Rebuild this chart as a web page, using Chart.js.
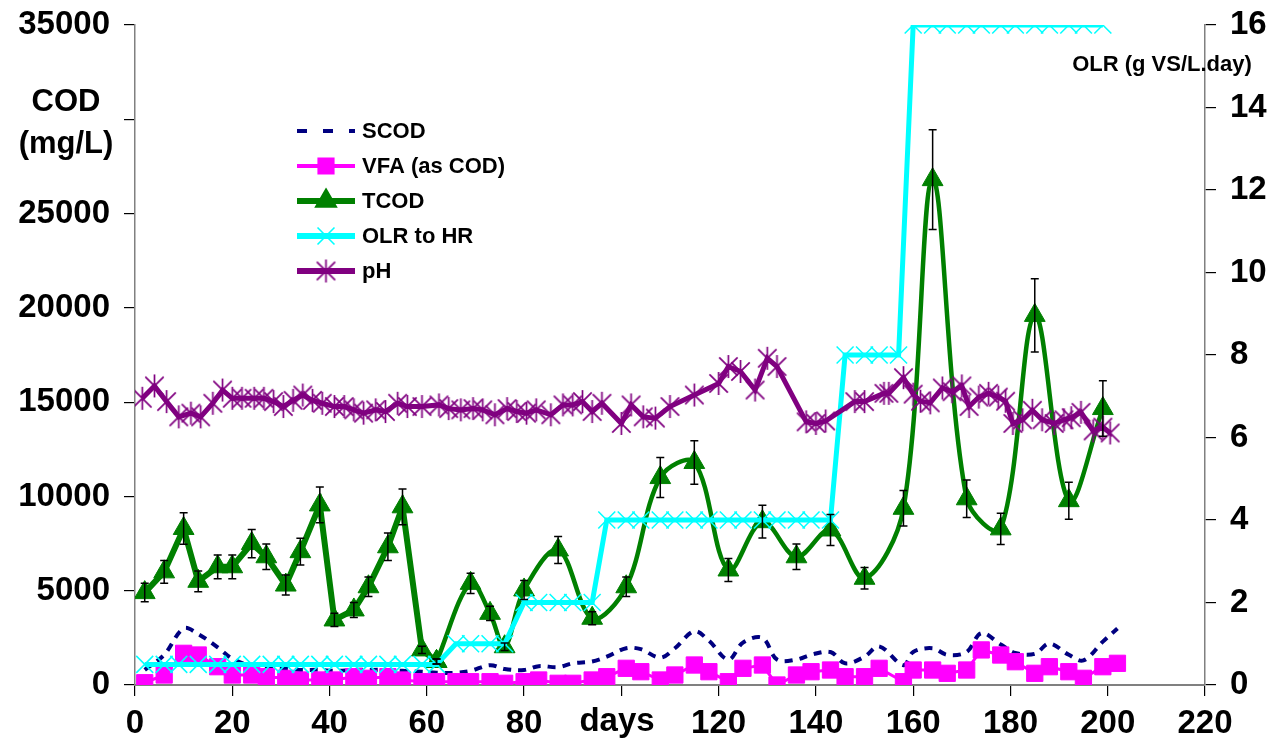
<!DOCTYPE html>
<html>
<head>
<meta charset="utf-8">
<script src="https://cdn.jsdelivr.net/npm/chart.js@4.4.0/dist/chart.umd.min.js"></script>
<style>
body { margin: 0; background: #fff; }
#wrap { width: 1282px; height: 755px; position: relative; }
</style>
</head>
<body>
<div id="wrap"><canvas id="chart"></canvas></div>
<script>
// sampling days for SCOD and VFA
var sampleDays = [2,6,10,13,17,20,24,27,31,34,38,41,45,48,52,55,59,62,66,69,73,76,80,83,87,90,94,97,101,104,
  108,111,115,118,122,125,129,132,136,139,143,146,150,153,158,160,164,167,171,174,178,181,185,188,192,195,199,202];
var scod = [800,1600,3000,2700,2000,1400,1000,900,850,800,800,750,800,800,800,750,700,650,650,750,
  1050,850,800,1000,950,1150,1250,1500,1950,1900,1450,1950,2850,2350,1350,2250,2500,1350,1350,1600,
  1750,1150,1500,2050,1050,1750,1950,1600,1750,2750,2150,1700,1650,2200,1600,1300,2300,3000];
var vfa = [120,530,1680,1590,970,530,530,440,355,265,265,265,440,355,440,265,175,175,175,175,
  175,90,175,265,90,90,265,440,885,705,265,530,1060,705,175,885,1060,0,530,705,
  795,440,440,885,175,795,795,620,795,1860,1590,1235,620,970,705,355,970,1150];

// TCOD, first part (straight) and second part (smoothed)
var tcodDaysA = [2,6,10,13,17,20,24,27,31,34,38,41,45,48,52,55,59,62];
var tcodA = [4900,6000,8300,5500,6270,6270,7500,6800,5300,7070,9550,3450,3980,5210,7330,9450,1860,1250];
var tcodErrA = [490,600,830,550,630,630,750,680,530,710,950,350,400,520,730,950,190,130];
var tcodDaysB = [62,69,73,76,80,87,94,101,108,115,122,129,136,143,150,158,164,171,178,185,192,199];
var tcodB = [1250,5390,3800,2030,5040,7160,3540,5210,11000,11800,6100,8660,6800,8220,5660,9370,26800,9875,8280,19600,9775,14660];
var tcodErrB = [130,540,380,200,500,720,350,520,1060,1150,610,870,680,820,570,940,2650,990,830,1940,980,1470];

// OLR to HR (right axis)
var olrDays = [2,6,9,13,17,20,24,28,31,34,38,41,45,48,52,55,59,62,66,69,73,76,80,83,87,90,94,
  97,101,104,108,111,115,118,122,125,129,132,136,139,143,146,150,153,157,
  160,164,167,171,174,178,181,185,188,192,195,199];
var olr = [0.5,0.5,0.5,0.5,0.5,0.5,0.5,0.5,0.5,0.5,0.5,0.5,0.5,0.5,0.5,0.5,0.5,0.5,1,1,1,1,2,2,2,2,2,
  4,4,4,4,4,4,4,4,4,4,4,4,4,4,8,8,8,8,
  16,16,16,16,16,16,16,16,16,16,16,16];

// pH (right axis)
var phDays = [1.5,4,6.5,9,11.5,13.5,16,18,20,22,24.5,26.5,28.5,30.5,32.5,34.5,36.5,38.5,41,43,45,47,49.5,51.5,54,56,59,
  62.5,64.5,67,69.5,71.5,74,76.5,78.5,80.5,82.5,85.5,88,90,92,94,96,100,102,104.5,107,110,
  115,120,122,124.5,127.5,130,132,138,140,142,148,150,154,155,158,160,161.5,163.5,166,168,170,171.5,
  173.5,175.5,177.5,179,180.5,182.5,184.5,186.5,189,191,192.5,194.5,197,199,200.5];
var ph = [6.95,7.25,6.87,6.5,6.59,6.5,6.83,7.15,6.95,6.95,6.95,6.95,6.87,6.75,6.9,7.03,6.9,6.83,6.75,6.75,6.67,6.59,6.67,6.63,6.83,6.75,6.75,
  6.79,6.7,6.67,6.7,6.67,6.55,6.7,6.63,6.59,6.67,6.55,6.79,6.79,6.87,6.63,6.83,6.34,6.79,6.5,6.47,6.75,
  7.03,7.31,7.72,7.6,7.15,7.92,7.72,6.38,6.34,6.4,6.87,6.87,7.07,7.07,7.45,7.05,6.88,6.84,7.2,7.11,7.25,6.75,
  6.98,7.07,6.98,6.88,6.34,6.43,6.66,6.43,6.34,6.43,6.48,6.61,6.16,6.25,6.11];

var FONT = 'Liberation Sans, Arial, sans-serif';

function pairs(xs, ys) {
  return xs.map(function(x, i) { return { x: x, y: ys[i] }; });
}

// asterisk marker like the spreadsheet "star": an X plus a vertical bar
function starMarker(size, color) {
  var c = document.createElement('canvas');
  c.width = size; c.height = size;
  var g = c.getContext('2d');
  var m = size / 2, r = size / 2 - 1;
  g.strokeStyle = color; g.lineWidth = 1.7;
  g.beginPath();
  g.moveTo(m - r * 0.8, m - r * 0.8); g.lineTo(m + r * 0.8, m + r * 0.8);
  g.moveTo(m + r * 0.8, m - r * 0.8); g.lineTo(m - r * 0.8, m + r * 0.8);
  g.moveTo(m, m - r); g.lineTo(m, m + r);
  g.stroke();
  return c;
}
var star = starMarker(25, '#800080');

var errorBars = {
  id: 'errorBars',
  afterDatasetsDraw: function(chart) {
    var ctx = chart.ctx, ys = chart.scales.y;
    ctx.save();
    ctx.strokeStyle = '#000';
    ctx.lineWidth = 1.5;
    chart.data.datasets.forEach(function(ds, i) {
      if (!ds.errors) return;
      chart.getDatasetMeta(i).data.forEach(function(pt, j) {
        var v = ds.data[j].y, e = ds.errors[j];
        var top = ys.getPixelForValue(v + e), bot = ys.getPixelForValue(v - e);
        ctx.beginPath();
        ctx.moveTo(pt.x, top); ctx.lineTo(pt.x, bot);
        ctx.moveTo(pt.x - 4, top); ctx.lineTo(pt.x + 4, top);
        ctx.moveTo(pt.x - 4, bot); ctx.lineTo(pt.x + 4, bot);
        ctx.stroke();
      });
    });
    ctx.restore();
  }
};

var legendItems = [
  { label: 'SCOD', color: '#000080', width: 4, dash: [10, 16], marker: null },
  { label: 'VFA (as COD)', color: '#FF00FF', width: 4, marker: 'rect', radius: 11 },
  { label: 'TCOD', color: '#008000', width: 6, marker: 'triangle', radius: 12 },
  { label: 'OLR to HR', color: '#00FFFF', width: 6, marker: 'crossRot', radius: 12 },
  { label: 'pH', color: '#800080', width: 6, marker: star, radius: 12 }
];

var texts = {
  id: 'texts',
  afterDraw: function(chart) {
    var ctx = chart.ctx;
    ctx.save();
    ctx.fillStyle = '#000';
    ctx.textAlign = 'center';
    ctx.textBaseline = 'middle';
    ctx.font = 'bold 31px ' + FONT;
    ctx.fillText('COD', 66, 102);
    ctx.fillText('(mg/L)', 66, 144);
    ctx.font = 'bold 22px ' + FONT;
    ctx.fillText('OLR (g VS/L.day)', 1162, 65);
    ctx.font = 'bold 33px ' + FONT;
    ctx.fillText('days', 617, 722);

    // legend
    legendItems.forEach(function(it, i) {
      var yy = 131 + i * 35;
      ctx.save();
      ctx.strokeStyle = it.color;
      ctx.fillStyle = it.color;
      ctx.lineWidth = it.width;
      ctx.setLineDash(it.dash || []);
      ctx.beginPath();
      ctx.moveTo(297, yy); ctx.lineTo(355, yy);
      ctx.stroke();
      ctx.setLineDash([]);
      if (it.marker) {
        ctx.lineWidth = 1.6;
        Chart.helpers.drawPoint(ctx, { pointStyle: it.marker, radius: it.radius, borderWidth: 1.6, rotation: 0 }, 326, yy);
      }
      ctx.restore();
      ctx.fillStyle = '#000';
      ctx.textAlign = 'left';
      ctx.font = 'bold 22px ' + FONT;
      ctx.fillText(it.label, 362, yy + 1);
    });
    ctx.restore();
  }
};

var tickFont = { family: FONT, size: 33, weight: 'bold' };

// fixed axis sizes so the plot area sits where the original one does
function fixWidth(w) {
  return function(s) { s.width = w; s.paddingTop = 0; s.paddingBottom = 0; };
}

new Chart(document.getElementById('chart'), {
  type: 'line',
  data: {
    datasets: [
      {
        label: 'pH', data: pairs(phDays, ph), yAxisID: 'y1', order: 1,
        borderColor: '#800080', borderWidth: 5, pointStyle: star, pointRadius: 12, tension: 0
      },
      {
        label: 'OLR to HR', data: pairs(olrDays, olr), yAxisID: 'y1', order: 2,
        borderColor: '#00FFFF', backgroundColor: '#00FFFF', borderWidth: 5,
        pointStyle: 'crossRot', pointRadius: 12, pointBorderWidth: 1.5, tension: 0
      },
      {
        label: 'TCOD', data: pairs(tcodDaysA, tcodA), errors: tcodErrA, yAxisID: 'y', order: 3,
        borderColor: '#008000', backgroundColor: '#008000', borderWidth: 6,
        pointStyle: 'triangle', pointRadius: 12, pointBorderWidth: 1, tension: 0
      },
      {
        label: 'TCOD', data: pairs(tcodDaysB, tcodB), errors: tcodErrB, yAxisID: 'y', order: 3,
        borderColor: '#008000', backgroundColor: '#008000', borderWidth: 4.5,
        pointStyle: 'triangle', pointRadius: 12, pointBorderWidth: 1, tension: 0.35
      },
      {
        label: 'VFA (as COD)', data: pairs(sampleDays, vfa), yAxisID: 'y', order: 4,
        borderColor: '#FF00FF', backgroundColor: '#FF00FF', borderWidth: 3,
        pointStyle: 'rect', pointRadius: 11.5, pointBorderWidth: 1, tension: 0
      },
      {
        label: 'SCOD', data: pairs(sampleDays, scod), yAxisID: 'y', order: 5,
        borderColor: '#000080', borderWidth: 4, borderDash: [8, 7],
        pointRadius: 0, tension: 0.35
      }
    ]
  },
  options: {
    responsive: true,
    maintainAspectRatio: false,
    animation: false,
    devicePixelRatio: 1,
    layout: { padding: { top: 25, left: 0, right: 0, bottom: 0 } },
    plugins: { legend: { display: false }, tooltip: { enabled: false } },
    scales: {
      x: {
        type: 'linear', min: 0, max: 220,
        afterFit: function(s) { s.height = 70; s.paddingLeft = 0; s.paddingRight = 0; },
        ticks: {
          stepSize: 20, color: '#000', font: tickFont, padding: 8, maxRotation: 0,
          callback: function(v) { return v === 100 ? '' : v; }
        },
        grid: { drawOnChartArea: false, tickLength: 11, color: '#000', lineWidth: 1.2 },
        border: { color: '#808080', width: 2 }
      },
      y: {
        position: 'left', min: 0, max: 35000,
        afterFit: fixWidth(135),
        ticks: {
          stepSize: 5000, color: '#000', font: tickFont, padding: 14,
          callback: function(v) { return v === 30000 ? '' : v; }
        },
        grid: { drawOnChartArea: false, tickLength: 11, color: '#000', lineWidth: 1.2 },
        border: { color: '#808080', width: 1.5 }
      },
      y1: {
        position: 'right', min: 0, max: 16,
        afterFit: fixWidth(77),
        ticks: { stepSize: 2, color: '#000', font: tickFont, padding: 14 },
        grid: { drawOnChartArea: false, tickLength: 11, color: '#000', lineWidth: 1.2 },
        border: { color: '#808080', width: 1.5 }
      }
    }
  },
  plugins: [errorBars, texts]
});
</script>
</body>
</html>
